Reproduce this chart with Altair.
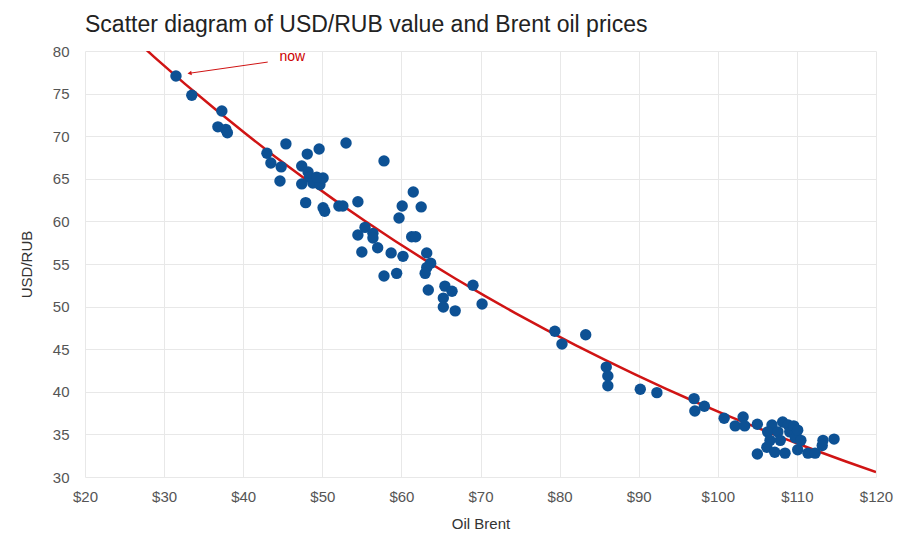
import altair as alt
import pandas as pd

oil = [31.5, 33.5, 37.3, 36.8, 37.8, 38.0, 43.0, 43.5, 45.4, 44.8,
       44.65, 48.1, 49.6, 53.0, 57.8, 47.4, 48.2, 48.4, 47.4, 48.8,
       49.7, 50.1, 49.3, 47.9, 50.1, 50.3, 52.1, 52.6, 54.5, 60.1,
       55.4, 54.5, 56.4, 56.4, 55.0, 57.0, 58.7, 60.2, 61.3, 61.8,
       63.2, 63.7, 63.2, 63.0, 57.8, 59.4, 63.4, 65.5, 66.4, 65.3,
       65.3, 66.8, 69.05, 70.2, 61.5, 62.5, 59.7, 79.4, 83.3, 80.3,
       85.9, 86.1, 86.1, 90.2, 92.3, 97.0, 97.1, 98.3, 100.8, 102.2,
       103.2, 103.4, 105.0, 105.0, 106.85, 108.2, 108.9, 106.3, 106.6, 106.2,
       107.2, 108.5, 110.1, 107.6, 109.1, 109.8, 107.9, 109.6, 110.1, 110.5,
       111.4, 112.3, 113.3, 114.7, 113.2]
usd = [77.07, 74.8, 72.96, 71.1, 70.8, 70.4, 68.0, 66.85, 69.1, 66.4,
       64.74, 67.9, 68.5, 69.2, 67.1, 66.5, 65.8, 65.2, 64.4, 64.5,
       64.3, 65.1, 65.2, 62.2, 61.6, 61.2, 61.8, 61.8, 62.3, 61.8,
       59.3, 58.4, 58.6, 58.05, 56.4, 56.9, 56.3, 55.9, 58.2, 58.2,
       56.3, 55.1, 54.6, 53.9, 53.6, 53.9, 51.95, 52.4, 51.8, 51.0,
       49.95, 49.5, 52.5, 50.3, 63.45, 61.7, 60.4, 47.1, 46.7, 45.6,
       42.9, 41.85, 40.7, 40.3, 39.9, 39.2, 37.75, 38.3, 36.9, 36.0,
       37.05, 36.0, 36.2, 32.7, 36.1, 36.45, 36.1, 35.3, 34.3, 33.5,
       32.9, 32.8, 33.2, 35.3, 35.3, 34.6, 34.3, 36.0, 35.5, 34.3,
       32.8, 32.8, 34.3, 34.45, 33.7]

x_ticks = [20, 30, 40, 50, 60, 70, 80, 90, 100, 110, 120]
y_ticks = [30, 35, 40, 45, 50, 55, 60, 65, 70, 75, 80]

# annotation "now"
note_text = ["now"]
note_x = [46.2]
note_y = [79.3]
arrow_x = [43.1]
arrow_y = [78.7]
arrow_x2 = [33.3]
arrow_y2 = [77.4]

df = pd.DataFrame({"oil": oil, "usd": usd})
note_df = pd.DataFrame({"t": note_text, "x": note_x, "y": note_y})
arrow_df = pd.DataFrame({"x": arrow_x, "y": arrow_y, "x2": arrow_x2, "y2": arrow_y2})

FONT = "Liberation Sans"
xs = alt.Scale(domain=[20, 120], nice=False, zero=False)
ys = alt.Scale(domain=[30, 80], nice=False, zero=False)

x_axis = alt.Axis(values=x_ticks, labelExpr="'$' + datum.value", title="Oil Brent",
                  grid=True, ticks=False, domain=False, labelPadding=12, titlePadding=12,
                  labelFlush=False,
                  labelFontSize=15, titleFontSize=15, labelColor="#555", titleColor="#333",
                  labelFont=FONT, titleFont=FONT, titleFontWeight="normal",
                  gridColor="#e8e8e8")
y_axis = alt.Axis(values=y_ticks, title="USD/RUB",
                  grid=True, ticks=False, domain=False, labelPadding=16, titlePadding=18,
                  labelFlush=False,
                  labelFontSize=15, titleFontSize=15, labelColor="#555", titleColor="#333",
                  labelFont=FONT, titleFont=FONT, titleFontWeight="normal",
                  gridColor="#e8e8e8")

points = alt.Chart(df).mark_circle(size=130, color="#0d5194", opacity=1).encode(
    x=alt.X("oil:Q", scale=xs, axis=x_axis),
    y=alt.Y("usd:Q", scale=ys, axis=y_axis),
)

trend = alt.Chart(df).transform_regression(
    "oil", "usd", method="exp", extent=[25, 120]
).mark_line(color="#d01414", strokeWidth=2.5, clip=True).encode(
    x=alt.X("oil:Q", scale=xs),
    y=alt.Y("usd:Q", scale=ys),
)

arrow_line = alt.Chart(arrow_df).mark_rule(color="#d01414", strokeWidth=1).encode(
    x=alt.X("x:Q", scale=xs), y=alt.Y("y:Q", scale=ys),
    x2="x2:Q", y2="y2:Q",
)
arrow_head = alt.Chart(arrow_df).mark_point(
    shape="triangle", size=22, filled=True, color="#d01414", angle=262, opacity=1
).encode(
    x=alt.X("x2:Q", scale=xs), y=alt.Y("y2:Q", scale=ys),
)
note = alt.Chart(note_df).mark_text(
    color="#cc0000", fontSize=14, font=FONT, align="center", baseline="middle"
).encode(
    x=alt.X("x:Q", scale=xs), y=alt.Y("y:Q", scale=ys), text="t:N"
)

chart = alt.layer(trend, points, arrow_line, arrow_head, note).properties(
    width=791, height=426,
    title=alt.TitleParams(
        "Scatter diagram of USD/RUB value and Brent oil prices",
        anchor="start", frame="group", fontSize=23, font=FONT, color="#222",
        fontWeight="normal", offset=7,
    ),
    autosize=alt.AutoSizeParams(type="none"),
    padding={"left": 77, "top": 43, "right": 19, "bottom": 62},
).configure_view(stroke=None)

chart.save("out.html", embed_options={"renderer": "svg", "actions": False})
